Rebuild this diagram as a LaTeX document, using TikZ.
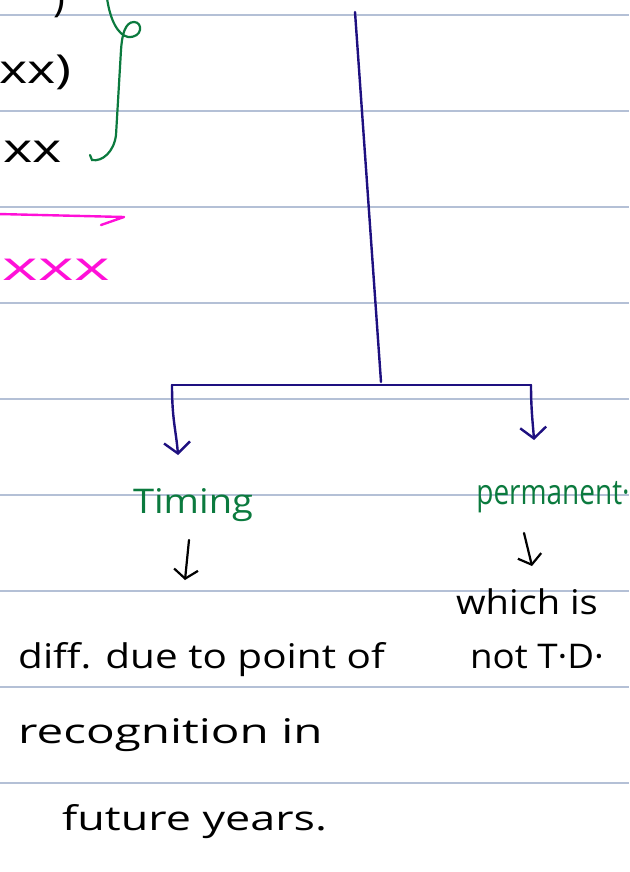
\documentclass[tikz,border=0pt]{standalone}
\usepackage{fontspec}
\setmainfont{Open Sans}
\usetikzlibrary{arrows.meta}
\definecolor{rule}{HTML}{B4C0D6}
\definecolor{navy}{HTML}{1E1080}
\definecolor{pgreen}{HTML}{0B7A3E}
\definecolor{pmag}{HTML}{FF10D8}
\newcommand{\hs}[2]{\scalebox{#1}[1]{#2}}
\tikzset{
  ruled/.style={rule, line width=1.2pt},
  navyline/.style={navy, line width=2.4pt, line cap=round, line join=round},
  navyarr/.style={navyline, -{Straight Barb[length=11pt,width=26pt,line width=2.4pt]}},
  blackarr/.style={black, line width=2.2pt, line cap=round, -{Straight Barb[length=9pt,width=24pt,line width=2.2pt]}},
  hand/.style={inner sep=0pt, font=\fontsize{34}{38}\selectfont},
  bighand/.style={inner sep=0pt, font=\fontsize{40}{44}\selectfont},
  greentext/.style={inner sep=0pt, text=pgreen, font=\fontsize{34}{38}\selectfont},
}
\begin{document}
\begin{tikzpicture}[x=1pt,y=-1pt]
\useasboundingbox (0,0) rectangle (629,872);
\clip (0,0) rectangle (629,872);
\fill[white] (0,0) rectangle (629,872);
% ruled lines
\foreach \y in {15,111,207,303,399,495,591,687,783,879}
  \draw[ruled] (0,\y) -- (629,\y);
% top-left fragments
\node[bighand, anchor=east] (r1) at (66,0) {)};
\node[bighand, anchor=east] (r2) at (72,72) {\hs{1.35}{xx)}};
\node[bighand, anchor=east] (r3) at (62,152) {\hs{1.4}{xx}};
\node[bighand, anchor=east, text=pmag] (r4) at (110,270) {\hs{1.7}{xxx}};
% green brace
\draw[pgreen, line width=2.2pt, line cap=round] (107,-2) .. controls (110,20) and (118,35) .. (128,37)
  .. controls (143,38) and (143,22) .. (134,22) .. controls (125,22) and (122,35) .. (121,50)
  -- (116,135) .. controls (114,152) and (102,162) .. (92,160) -- (90,155);
% magenta arrow
\draw[pmag, line width=2.4pt, line cap=round, line join=round] (-2,214) -- (124,217) -- (101,225);
% navy tree
\coordinate (top) at (355,12);
\coordinate (mid) at (381,382);
\coordinate (L) at (172,385);
\coordinate (R) at (531,385);
\draw[navyline] (top) -- (mid);
\draw[navyline] (L) -- (R);
\node[greentext] (timing) at (193,505) {\hs{1.12}{Timing}};
\node[greentext, font=\fontsize{28}{32}\selectfont] (perm) at (553,497) {\scalebox{1}[1.25]{permanent·}};
\draw[navyarr] (L) .. controls (172,420) and (176,430) .. (178,455);
\draw[navyarr] (R) .. controls (531,410) and (533,425) .. (534,440);
% lower texts
\node[hand] (which) at (527,602) {\hs{1.12}{which is}};
\node[hand] (notTD) at (537,657) {\hs{1.08}{not T·D·}};
\node[hand, anchor=west] (diff) at (18,660) {\hs{1.19}{diff. due to point of}};
\node[hand, anchor=west] (recog) at (18,735) {\hs{1.4}{recognition in}};
\node[hand, anchor=west] (future) at (62,822) {\hs{1.32}{future years.}};
\coordinate (t1) at (189,540);
\coordinate (t2) at (185,580);
\coordinate (p1) at (524,533);
\coordinate (p2) at (532,566);
\draw[blackarr] (t1) -- (t2);
\draw[blackarr] (p1) -- (p2);
\end{tikzpicture}
\end{document}
